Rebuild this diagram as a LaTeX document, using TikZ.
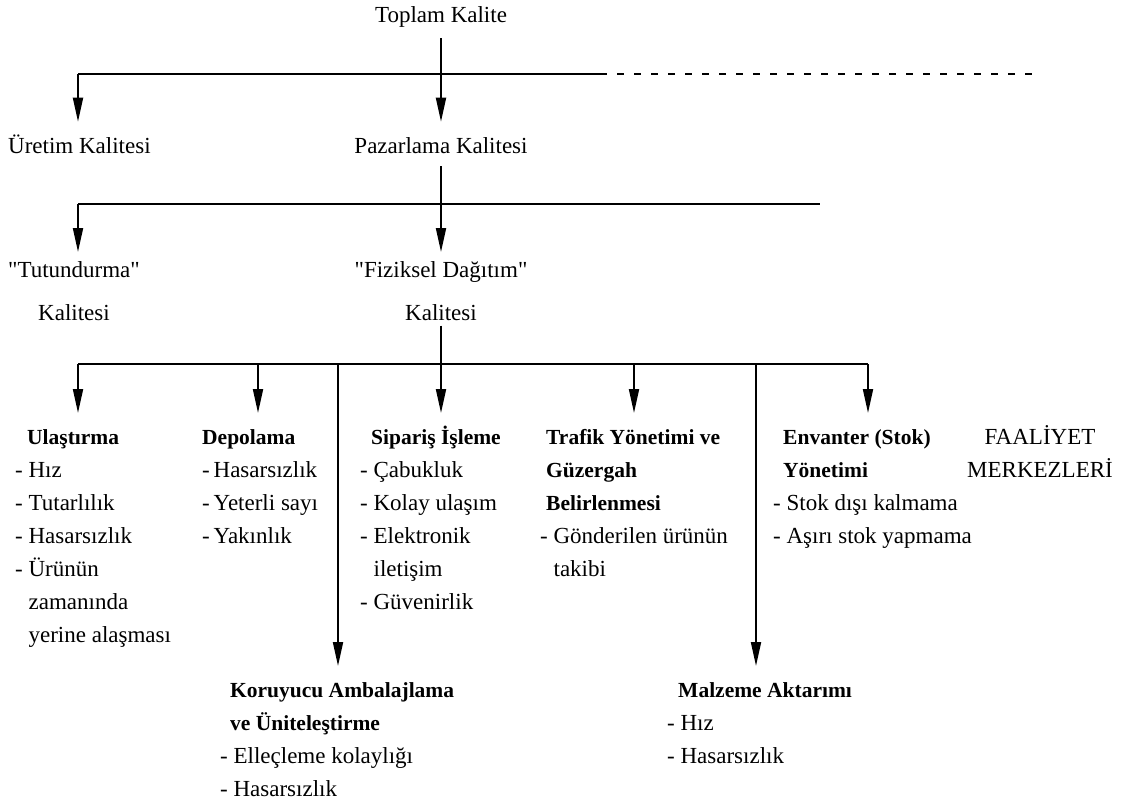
\documentclass[tikz,border=0pt]{standalone}
\usepackage{fontspec}
% TeXOff keeps the typed " as a straight double quote
\setmainfont{Liberation Serif}[Ligatures=TeXOff]
\usetikzlibrary{arrows.meta}
% bold headings are set a little smaller than the body text
\newcommand{\hd}[1]{{\fontsize{21.5}{33}\selectfont\bfseries #1}}
\begin{document}
\begin{tikzpicture}[x=1pt,y=-1pt,
  txt/.style={inner sep=0pt, font=\fontsize{23}{33}\selectfont},
  lbl/.style={txt, anchor=base, execute at begin node=\strut},
  lblw/.style={txt, anchor=base west, execute at begin node=\strut},
  twoline/.style={txt, align=center, anchor=north, font=\fontsize{23}{43}\selectfont},
  blk/.style={txt, align=left, anchor=north west},
  link/.style={line width=1.9pt},
  arr/.style={link, -{Triangle[length=24pt,width=10pt]}, shorten >=8pt},
]
\useasboundingbox (0,0) rectangle (1145,808);

% ---------- level 0 ----------
\node[lbl] (top) at (441,23) {Toplam Kalite};

% ---------- level 1 ----------
\coordinate (a1) at (78,74);
\coordinate (m1) at (441,74);
\coordinate (s1) at (600,74);
\coordinate (e1) at (1036,74);
\node[lblw] (ure) at (8,153) {Üretim Kalitesi};
\node[lbl] (paz) at (441,153) {Pazarlama Kalitesi};

\draw[link, shorten <=5pt] (top.south) -- (m1);
\draw[link] (a1) -- (s1);
\draw[link, dash pattern=on 7pt off 10pt] (s1) -- (e1);
\draw[arr] (a1) -- (a1 |- ure.north);
\draw[arr] (m1) -- (paz.north);

% ---------- level 2 ----------
\coordinate (a2) at (78,204);
\coordinate (m2) at (441,204);
\coordinate (e2) at (820,204);
\node[twoline] (tut) at (74,247) {\strut"Tutundurma"\\Kalitesi};
\node[twoline] (fiz) at (441,247) {\strut"Fiziksel Dağıtım"\\Kalitesi};

\draw[link, shorten <=3pt] (paz.south) -- (m2);
\draw[link] (a2) -- (e2);
\draw[arr, shorten >=-5pt] (a2) -- (a2 |- tut.north);
\draw[arr, shorten >=-5pt] (m2) -- (fiz.north);

% ---------- level 3 : activity centres ----------
\coordinate (a3) at (78,364);
\coordinate (b3) at (258,364);
\coordinate (c3) at (338,364);
\coordinate (m3) at (441,364);
\coordinate (d3) at (634,364);
\coordinate (f3) at (756,364);
\coordinate (e3) at (868,364);

\node[blk] (ula) at (15,421) {\strut\hspace*{12pt}\hd{Ulaştırma}\\
  - Hız\\ - Tutarlılık\\ - Hasarsızlık\\ - Ürünün\\
  \phantom{- }zamanında\\ \phantom{- }yerine alaşması};
\node[blk] (dep) at (202,421) {\strut\hd{Depolama}\\
  -\,Hasarsızlık\\ -\,Yeterli sayı\\ -\,Yakınlık};
\node[blk] (sip) at (360,421) {\strut\hspace*{11pt}\hd{Sipariş İşleme}\\
  - Çabukluk\\ - Kolay ulaşım\\ - Elektronik\\
  \phantom{- }iletişim\\ - Güvenirlik};
\node[blk] (tra) at (540,421) {\strut\hspace*{6pt}\hd{Trafik Yönetimi ve}\\
  \hspace*{6pt}\hd{Güzergah}\\ \hspace*{6pt}\hd{Belirlenmesi}\\
  - Gönderilen ürünün\\ \phantom{- }takibi};
\node[blk] (env) at (773,421) {\strut\hspace*{10pt}\hd{Envanter (Stok)}\\
  \hspace*{10pt}\hd{Yönetimi}\\ - Stok dışı kalmama\\ - Aşırı stok yapmama};
\node[txt, align=center, anchor=north] (faa) at (1040,421) {\strut FAALİYET\\MERKEZLERİ};

\node[blk] (kor) at (220,674) {\strut\hspace*{10pt}\hd{Koruyucu Ambalajlama}\\
  \hspace*{10pt}\hd{ve Üniteleştirme}\\ - Elleçleme kolaylığı\\ - Hasarsızlık};
\node[blk] (mal) at (667,674) {\strut\hspace*{11pt}\hd{Malzeme Aktarımı}\\
  - Hız\\ - Hasarsızlık};

\draw[link, shorten <=5pt] (fiz.south) -- (m3);
\draw[link] (a3) -- (e3);
\draw[arr] (a3) -- (a3 |- ula.north);
\draw[arr] (b3) -- (b3 |- dep.north);
\draw[arr] (m3) -- (m3 |- sip.north);
\draw[arr] (d3) -- (d3 |- tra.north);
\draw[arr] (e3) -- (e3 |- env.north);
\draw[arr] (c3) -- (c3 |- kor.north);
\draw[arr] (f3) -- (f3 |- mal.north);
\end{tikzpicture}
\end{document}
